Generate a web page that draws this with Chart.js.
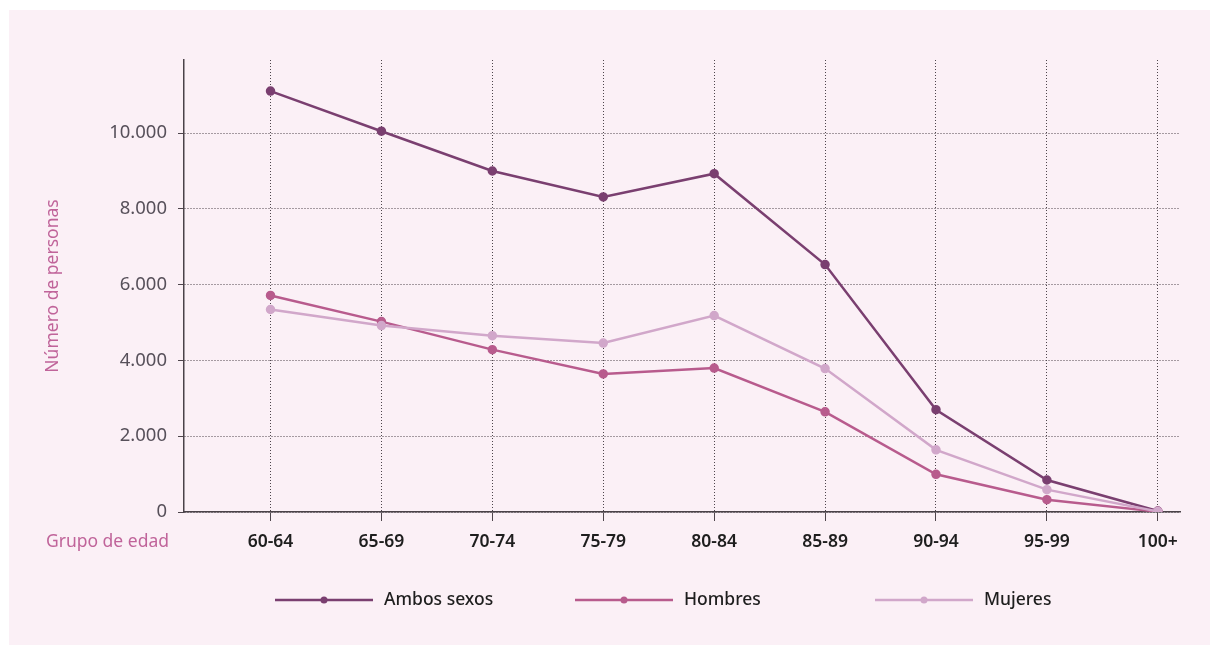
<!DOCTYPE html>
<html lang="es">
<head>
<meta charset="utf-8">
<script src="https://cdn.jsdelivr.net/npm/chart.js@4.4.1/dist/chart.umd.min.js"></script>
<style>
    html, body { margin: 0; padding: 0; background: #ffffff; }
    #wrap {
        position: absolute;
        left: 9px;
        top: 10px;
        width: 1201px;
        height: 635px;
        background: #fbf0f6;
    }
</style>
</head>
<body>
<div id="wrap"><canvas id="edadChart" width="1201" height="635"></canvas></div>
<script>
const grupos = ["60-64", "65-69", "70-74", "75-79", "80-84", "85-89", "90-94", "95-99", "100+"];
const ambosSexos = [11110, 10050, 9000, 8315, 8930, 6530, 2700, 845, 25];
const hombres = [5715, 5025, 4285, 3645, 3800, 2645, 995, 325, 10];
const mujeres = [5345, 4920, 4655, 4460, 5185, 3785, 1640, 590, 15];
const yTicks = [0, 2000, 4000, 6000, 8000, 10000];

const colores = {
    ambos: "#7a3f70",
    hombres: "#b85b8d",
    mujeres: "#d1a7ca",
};
const rosaTexto = "#c0649a";
const fuente = "'Noto Sans', 'DejaVu Sans', sans-serif";

const series = [
    { label: "Ambos sexos", data: ambosSexos, color: colores.ambos, order: 3 },
    { label: "Hombres", data: hombres, color: colores.hombres, order: 2 },
    { label: "Mujeres", data: mujeres, color: colores.mujeres, order: 1 },
];

const formatoMiles = (v) => v.toLocaleString("es-ES", { useGrouping: "always" }).replace(/\u00a0/g, ".");

// leyenda en columnas: línea con punto en el centro y el nombre a la derecha
const leyendaColumnas = {
    id: "leyendaColumnas",
    afterDraw(chart) {
        const { ctx, chartArea } = chart;
        const y = chartArea.bottom + 88;
        ctx.save();
        series.forEach((s, i) => {
            const x0 = chartArea.left + 91 + i * 300;
            ctx.strokeStyle = s.color;
            ctx.lineWidth = 2.5;
            ctx.beginPath();
            ctx.moveTo(x0, y);
            ctx.lineTo(x0 + 98, y);
            ctx.stroke();
            ctx.fillStyle = s.color;
            ctx.beginPath();
            ctx.arc(x0 + 49, y, 3.5, 0, Math.PI * 2);
            ctx.fill();
            ctx.fillStyle = "#1e1e1e";
            ctx.font = "500 17.5px " + fuente;
            ctx.textAlign = "left";
            ctx.textBaseline = "middle";
            ctx.fillText(s.label, x0 + 109, y);
        });
        // rótulo del eje de categorías, a la izquierda de las etiquetas
        ctx.fillStyle = rosaTexto;
        ctx.font = "17.5px " + fuente;
        ctx.textAlign = "right";
        ctx.textBaseline = "middle";
        ctx.fillText("Grupo de edad", chartArea.left - 15, chartArea.bottom + 30);
        ctx.restore();
    },
};

new Chart(document.getElementById("edadChart"), {
    type: "line",
    data: {
        datasets: series.map((s) => ({
            label: s.label,
            data: s.data.map((v, i) => ({ x: i, y: v })),
            borderColor: s.color,
            backgroundColor: s.color,
            borderWidth: 2.5,
            pointRadius: 3.5,
            pointHoverRadius: 3.5,
            fill: false,
            tension: 0,
            order: s.order,
        })),
    },
    options: {
        responsive: false,
        animation: false,
        layout: {
            padding: { top: 50, right: 30, left: 0, bottom: 0 },
        },
        scales: {
            x: {
                type: "linear",
                min: -0.78,
                max: 8.2,
                afterBuildTicks: (axis) => {
                    axis.ticks = grupos.map((g, i) => ({ value: i }));
                },
                afterFit: (axis) => {
                    axis.height = 133;
                },
                ticks: {
                    callback: (v) => grupos[v] ?? "",
                    color: "#1e1e1e",
                    font: { family: fuente, size: 17.5, weight: "600" },
                    padding: 11,
                    maxRotation: 0,
                    autoSkip: false,
                },
                grid: {
                    color: "#4e454c",
                    lineWidth: 1,
                    tickLength: 9,
                    drawTicks: true,
                },
                border: {
                    color: "#4a4248",
                    width: 1.5,
                    dash: [1, 2],
                },
            },
            y: {
                min: 0,
                max: 11930,
                afterBuildTicks: (axis) => {
                    axis.ticks = yTicks.map((v) => ({ value: v }));
                },
                afterFit: (axis) => {
                    axis.width = 175;
                },
                ticks: {
                    callback: (v) => formatoMiles(v),
                    color: "#57505a",
                    font: { family: fuente, size: 18.5 },
                    padding: 11,
                },
                grid: {
                    color: "#4e454c",
                    lineWidth: 1,
                    tickLength: 6,
                },
                border: {
                    color: "#4a4248",
                    width: 1.5,
                    dash: [1, 2],
                },
                title: {
                    display: true,
                    text: "Número de personas",
                    color: rosaTexto,
                    font: { family: fuente, size: 17.5 },
                    padding: { top: 34, bottom: 0 },
                },
            },
        },
        plugins: {
            legend: { display: false },
            tooltip: { enabled: false },
        },
    },
    plugins: [leyendaColumnas],
});
</script>
</body>
</html>
